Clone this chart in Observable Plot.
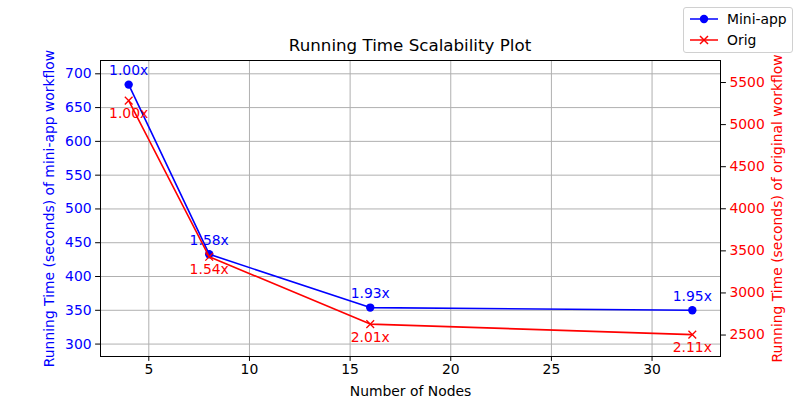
<!DOCTYPE html>
<html><head><meta charset="utf-8">
<script src="https://cdn.jsdelivr.net/npm/d3@7"></script>
<script src="https://cdn.jsdelivr.net/npm/@observablehq/plot@0.6"></script>
<style>
body{margin:0;background:#fff;}
#wrap{position:relative;width:800px;height:400px;font-family:"DejaVu Sans",sans-serif;}
#title{position:absolute;left:0;width:820px;top:37px;text-align:center;font-size:16.7px;color:#000;line-height:1;}
#legend{position:absolute;left:683px;top:7px;width:108px;height:44px;border:1px solid #d0d0d0;border-radius:3px;background:#fff;font-size:13.9px;}
#legend .row{position:absolute;left:5px;height:20px;display:flex;align-items:center;}
#legend .row span{margin-left:8px;}
</style>
</head><body>
<div id="wrap"><div id="chart"></div><div id="title">Running Time Scalability Plot</div>
<div id="legend">
<div class="row" style="top:1px"><svg width="30" height="20"><line x1="1" x2="29" y1="10" y2="10" stroke="#0000ff" stroke-width="1.5"/><circle cx="15" cy="10" r="4.2" fill="#0000ff"/></svg><span>Mini-app</span></div>
<div class="row" style="top:22px"><svg width="30" height="20"><line x1="1" x2="29" y1="10" y2="10" stroke="#ff0000" stroke-width="1.5"/><path d="M11,6L19,14M19,6L11,14" stroke="#ff0000" stroke-width="1.5"/></svg><span>Orig</span></div>
</div>
</div>
<script>
const nodes = [4, 8, 16, 32];
const miniApp = [684, 433, 354, 350];
const orig = [5285, 3430, 2630, 2505];
const miniSpeedup = ["1.00x", "1.58x", "1.93x", "1.95x"];
const origSpeedup = ["1.00x", "1.54x", "2.01x", "2.11x"];
const xTicks = [5, 10, 15, 20, 25, 30];
const leftTicks = [300, 350, 400, 450, 500, 550, 600, 650, 700];
const rightTicks = [2500, 3000, 3500, 4000, 4500, 5000, 5500];

const leftDomain = [281.6, 719.7];
const rightDomain = [2245, 5761.6];
const r2l = d3.scaleLinear().domain(rightDomain).range(leftDomain);

const blueData = nodes.map((n, i) => ({n, v: miniApp[i], s: miniSpeedup[i]}));
const redData = nodes.map((n, i) => ({n, v: r2l(orig[i]), s: origSpeedup[i]}));

const font = "DejaVu Sans";
const plot = Plot.plot({
  width: 800, height: 400,
  marginLeft: 100, marginRight: 80, marginTop: 60, marginBottom: 44,
  style: {fontFamily: font, fontSize: "13.9px", background: "#fff"},
  x: {domain: [2.6, 33.4]},
  y: {domain: leftDomain},
  marks: [
    Plot.gridX(xTicks, {stroke: "#b0b0b0", strokeOpacity: 1, strokeWidth: 1}),
    Plot.gridY(leftTicks, {stroke: "#b0b0b0", strokeOpacity: 1, strokeWidth: 1}),
    Plot.line(blueData, {x: "n", y: "v", stroke: "#0000ff", strokeWidth: 1.6}),
    Plot.dot(blueData, {x: "n", y: "v", fill: "#0000ff", r: 4.2}),
    Plot.line(redData, {x: "n", y: "v", stroke: "#ff0000", strokeWidth: 1.6}),
    Plot.dot(redData, {x: "n", y: "v", symbol: "times", stroke: "#ff0000", strokeWidth: 1.3, r: 3.6}),
    Plot.text(blueData, {x: "n", y: "v", text: "s", fill: "#0000ff", dy: -14}),
    Plot.text(redData, {x: "n", y: "v", text: "s", fill: "#ff0000", dy: 13}),
    Plot.frame({stroke: "#000", strokeWidth: 1}),
    Plot.axisX(xTicks, {tickSize: 4.9, tickPadding: 3, stroke: "#000", fill: "#000", label: null}),
    Plot.axisY(leftTicks, {anchor: "left", tickSize: 4.9, tickPadding: 4, stroke: "#000", fill: "#0000ff", label: null}),
    Plot.axisY(rightTicks.map(r2l), {anchor: "right", tickSize: 4.9, tickPadding: 4, stroke: "#000", fill: "#ff0000", label: null,
      tickFormat: d => String(Math.round(r2l.invert(d)))}),
    Plot.text(["Number of Nodes"], {frameAnchor: "bottom", dy: 35, lineAnchor: "middle", textAnchor: "middle", fill: "#000"}),
    Plot.text(["Running Time (seconds) of mini-app workflow"], {frameAnchor: "left", dx: -51, rotate: -90, textAnchor: "middle", lineAnchor: "middle", fill: "#0000ff"}),
    Plot.text(["Running Time (seconds) of original workflow"], {frameAnchor: "right", dx: 57, rotate: -90, textAnchor: "middle", lineAnchor: "middle", fill: "#ff0000"})
  ]
});
document.getElementById("chart").appendChild(plot);
</script>
</body></html>
